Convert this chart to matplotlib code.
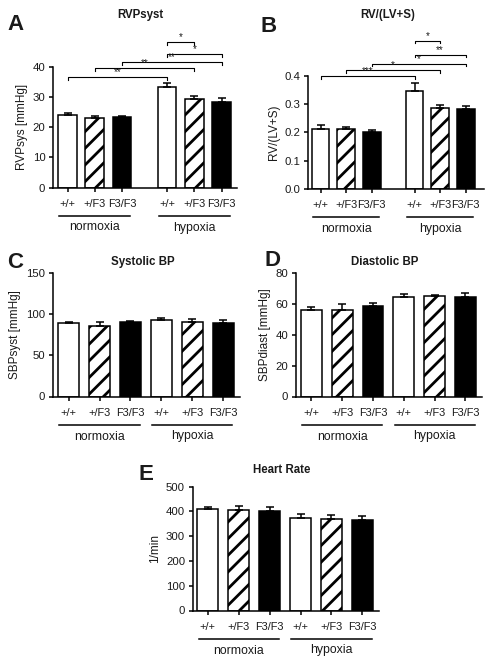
import matplotlib
matplotlib.use("Agg")
import matplotlib.pyplot as plt
from matplotlib.transforms import ScaledTranslation

plt.rcParams['font.family'] = ['Liberation Sans', 'DejaVu Sans']
plt.rcParams['hatch.linewidth'] = 2.0

# ---------------- data ----------------
genotypes = ["+/+", "+/F3", "F3/F3", "+/+", "+/F3", "F3/F3"]
groups = ["normoxia", "hypoxia"]

rvp_mean = [24.2, 23.1, 23.3, 33.4, 29.3, 28.6]
rvp_err = [0.5, 0.6, 0.4, 1.5, 1.3, 1.1]

rv_mean = [0.213, 0.211, 0.200, 0.348, 0.285, 0.284]
rv_err = [0.014, 0.008, 0.009, 0.028, 0.013, 0.011]

sbp_mean = [88.7, 85.5, 89.9, 92.3, 90.7, 89.1]
sbp_err = [2.0, 4.4, 1.6, 2.5, 2.8, 3.6]

dbp_mean = [55.8, 56.0, 58.2, 64.4, 64.9, 64.0]
dbp_err = [1.9, 3.9, 2.1, 2.0, 1.0, 2.8]

hr_mean = [409, 405, 401, 374, 368, 365]
hr_err = [7, 17, 15, 14, 17, 16]

# significance brackets: (bar i, bar j, y level, label)
rvp_sig = [(0, 3, 36.7, "**"), (1, 4, 39.7, "**"), (2, 5, 41.7, "**"),
           (3, 5, 44.4, "*"), (3, 4, 48.4, "*")]
rv_sig = [(0, 3, 0.400, "***"), (1, 4, 0.421, "*"), (2, 5, 0.444, "*"),
          (3, 5, 0.476, "**"), (3, 4, 0.525, "*")]

# ---------------- figure ----------------
W, H = 494, 666
fig = plt.figure(figsize=(W / 100, H / 100), dpi=100)

FS_XT = 7.9
FS_YT = 8.2
FS_LAB = 8.5
FS_TIT = 8.3
FS_GRP = 8.8
FS_STAR = 7.0
LW = 1.1
TXT = "#1a1a1a"


def px_axes(left, right, top, bottom):
    return fig.add_axes([left / W, (H - bottom) / H, (right - left) / W, (bottom - top) / H])


def draw_panel(ax, pos, mean, err, yticks, ylim, ylabel, title, letter, letter_xy, title_xy,
               xlim, tickfmt=None):
    styles = [dict(color="white", hatch=None), dict(color="white", hatch="//"),
              dict(color="black", hatch=None)] * 2
    for x, m, e, st in zip(pos, mean, err, styles):
        ax.bar(x, m, width=0.68, color=st["color"], edgecolor="black", linewidth=LW,
               hatch=st["hatch"], zorder=2)
        ax.errorbar(x, m, yerr=[[0], [e]], fmt="none", ecolor="black", elinewidth=LW,
                    capsize=3.2, capthick=LW, zorder=3)
    ax.set_xlim(*xlim)
    ax.set_ylim(*ylim)
    ax.set_yticks(yticks)
    if tickfmt:
        ax.set_yticklabels([tickfmt.format(v) for v in yticks])
    ax.set_xticks(pos)
    ax.set_xticklabels(genotypes)
    for s in ["top", "right"]:
        ax.spines[s].set_visible(False)
    for s in ["left", "bottom"]:
        ax.spines[s].set_linewidth(LW)
    ax.tick_params(axis="both", width=LW, length=3, color="black", labelcolor=TXT)
    ax.tick_params(axis="x", pad=5, labelsize=FS_XT)
    ax.tick_params(axis="y", pad=2.5, labelsize=FS_YT)
    ax.set_ylabel(ylabel, fontsize=FS_LAB, labelpad=3.5, color=TXT)
    # group underlines and labels
    for g, name in enumerate(groups):
        x0 = pos[3 * g] - 0.3
        x1 = pos[3 * g + 2] + 0.3
        tr = ax.get_xaxis_transform() + ScaledTranslation(0, -28 / 100, fig.dpi_scale_trans)
        ax.plot([x0, x1], [0, 0], color="black", lw=LW, transform=tr, clip_on=False)
        tr2 = ax.get_xaxis_transform() + ScaledTranslation(0, -40 / 100, fig.dpi_scale_trans)
        ax.text((pos[3 * g] + pos[3 * g + 2]) / 2, 0, name, transform=tr2, ha="center",
                va="center", fontsize=FS_GRP, color=TXT)
    fig.text(letter_xy[0] / W, 1 - letter_xy[1] / H, letter, fontsize=16, fontweight="bold",
             ha="left", va="center", color=TXT)
    fig.text(title_xy[0] / W, 1 - title_xy[1] / H, title, fontsize=FS_TIT, fontweight="bold",
             ha="center", va="center", color=TXT)


def draw_sig(ax, pos, sigs, drop):
    for i, j, y, lab in sigs:
        ax.plot([pos[i], pos[i], pos[j], pos[j]], [y - drop, y, y, y - drop], color="black",
                lw=0.8, clip_on=False)
        ax.text((pos[i] + pos[j]) / 2, y, lab, ha="center", va="bottom", fontsize=FS_STAR,
                clip_on=False, color=TXT)


pos_gap = [0, 1, 2, 3.67, 4.67, 5.67]
pos_even = [0, 1, 2, 3, 4, 5]

# Panel A
axA = px_axes(53, 237, 67.3, 187.5)
draw_panel(axA, pos_gap, rvp_mean, rvp_err, [0, 10, 20, 30, 40], (0, 40), "RVPsys [mmHg]",
           "RVPsyst", "A", (7, 24), (140, 15), (-0.537, 6.24))
draw_sig(axA, pos_gap, rvp_sig, 0.9)

# Panel B
axB = px_axes(308, 484, 76, 188.7)
draw_panel(axB, pos_gap, rv_mean, rv_err, [0.0, 0.1, 0.2, 0.3, 0.4], (0, 0.4), "RV/(LV+S)",
           "RV/(LV+S)", "B", (260, 27), (388, 15), (-0.49, 6.38), tickfmt="{:.1f}")
draw_sig(axB, pos_gap, rv_sig, 0.009)

# Panel C
axC = px_axes(52.7, 240, 272.7, 396.5)
draw_panel(axC, pos_even, sbp_mean, sbp_err, [0, 50, 100, 150], (0, 150), "SBPsyst [mmHg]",
           "Systolic BP", "C", (7, 262), (143, 262), (-0.52, 5.55))

# Panel D
axD = px_axes(296, 482, 272.7, 396.5)
draw_panel(axD, pos_even, dbp_mean, dbp_err, [0, 20, 40, 60, 80], (0, 80), "SBPdiast [mmHg]",
           "Diastolic BP", "D", (264, 260), (385, 262), (-0.50, 5.54))

# Panel E
axE = px_axes(192.7, 379, 486.7, 610.5)
draw_panel(axE, pos_even, hr_mean, hr_err, [0, 100, 200, 300, 400, 500], (0, 500), "1/min",
           "Heart Rate", "E", (139, 474), (282, 470), (-0.49, 5.54))

fig.savefig("out.png", dpi=100)
